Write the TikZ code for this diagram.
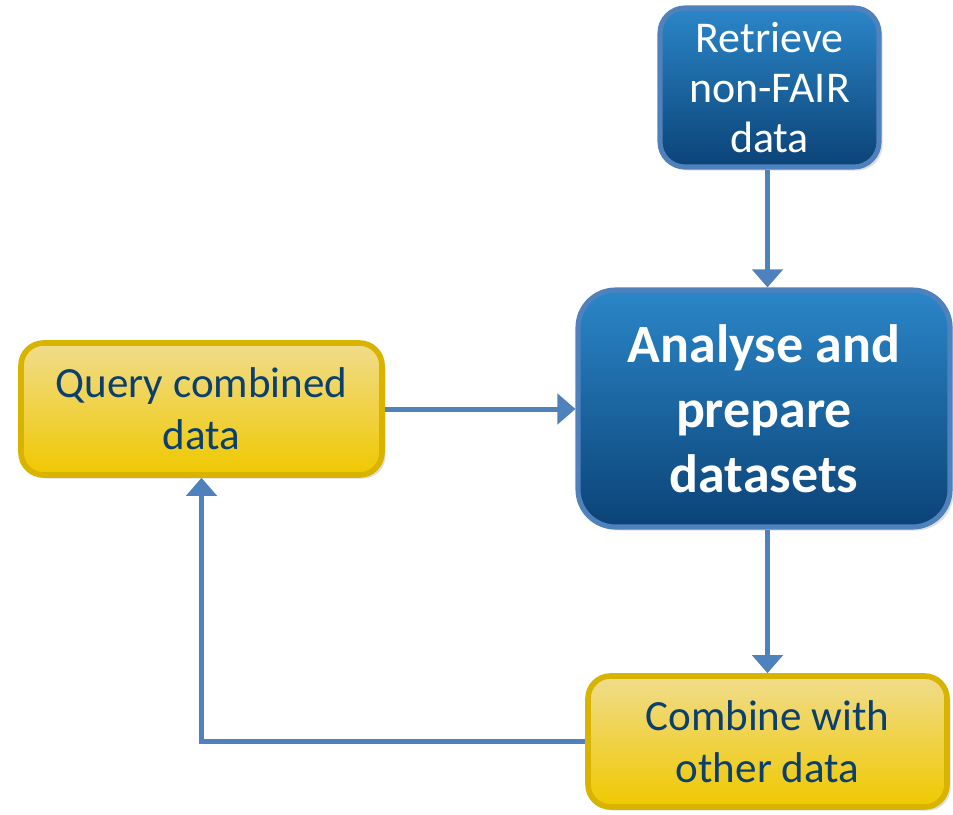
\documentclass[tikz,border=0pt]{standalone}
\usepackage{fontspec}
\setmainfont{Carlito}
\usepackage{xcolor}
\usepackage{tikz}
\usetikzlibrary{arrows,arrows.meta,shapes,backgrounds,shadows}
\usetikzlibrary{calc}
\definecolor{boxblue}{HTML}{2B86C8}
\definecolor{boxbluedark}{HTML}{0B4377}
\definecolor{boxyellow}{HTML}{F0DC8C}
\definecolor{boxyellowdark}{HTML}{F0C800}
\definecolor{rimyellow}{HTML}{D8B400}
\definecolor{linkblue}{HTML}{4F81BD}
\definecolor{textblue}{HTML}{0B3F6E}
\tikzstyle{blubox}=[rectangle, draw=linkblue, line width=2.9pt,% blue box, dark at the bottom
top color=boxblue, bottom color=boxbluedark, text=white, align=center,
drop shadow={opacity=0.25,shadow xshift=2pt,shadow yshift=-2pt}]
\tikzstyle{yelbox}=[rectangle, draw=rimyellow, line width=3.2pt,% yellow box
top color=boxyellow, bottom color=boxyellowdark, text=textblue, align=center,
rounded corners=0.45cm, font=\fontsize{24.5}{29.6}\selectfont,
drop shadow={opacity=0.25,shadow xshift=2pt,shadow yshift=-2pt}]
\tikzstyle{link}=[-{Triangle[width=0.6cm,length=0.36cm]}, draw=linkblue, line width=2.85pt]

\begin{document}
\begin{tikzpicture}
\useasboundingbox (0,0) rectangle (19.06,-16.28);
\node[blubox, rounded corners=0.5cm, minimum width=4.38cm, minimum height=3.18cm,
  font=\fontsize{25}{28.5}\selectfont] (retrieve) at (15.39,-1.75) {Retrieve\\non-FAIR\\data};
\node[blubox, rounded corners=0.75cm, minimum width=7.44cm, minimum height=4.74cm,
  font=\bfseries\fontsize{30.7}{37}\selectfont] (analyse) at (15.28,-8.17) {Analyse and\\prepare\\datasets};
\node[yelbox, minimum width=7.22cm, minimum height=2.64cm] (query) at (4.03,-8.18) {Query combined\\data};
\node[yelbox, minimum width=7.18cm, minimum height=2.62cm] (combine) at (15.35,-14.83) {Combine with\\other data};
\draw [link] (retrieve.south -| combine.north) -- (combine.north |- analyse.north);
\draw [link] (query.east) -- (query.east -| analyse.west);
\draw [link] (combine.north |- analyse.south) -- (combine.north);
\draw [link] (combine.west) -| (query.south);
\end{tikzpicture}
\end{document}
